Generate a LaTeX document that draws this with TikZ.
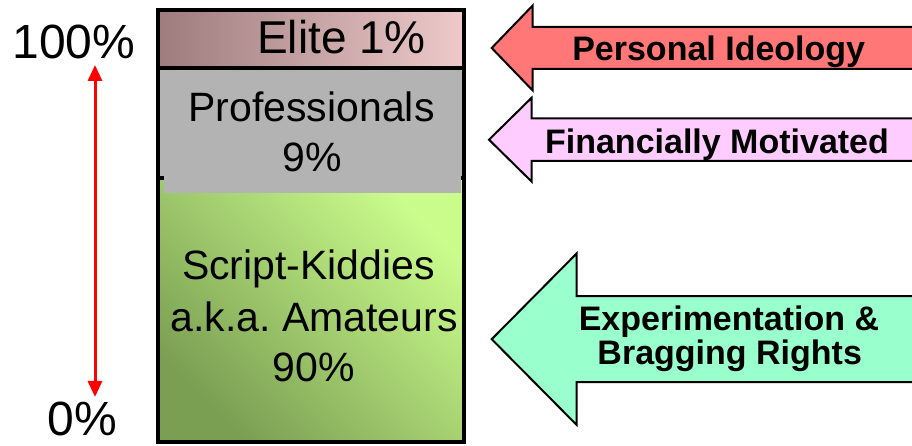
\documentclass[tikz,border=0pt]{standalone}
\usepackage{fontspec}
\setmainfont{Liberation Sans}
\usetikzlibrary{arrows.meta}
\definecolor{elitedark}{RGB}{158,123,125}
\definecolor{elitelight}{RGB}{238,202,202}
\definecolor{greendark}{RGB}{122,158,82}
\definecolor{greenlight}{RGB}{202,252,140}
\definecolor{profgray}{RGB}{179,179,179}
\definecolor{arrowred}{RGB}{255,119,119}
\definecolor{arrowpink}{RGB}{255,204,255}
\definecolor{arrowmint}{RGB}{153,255,204}
\begin{document}
\begin{tikzpicture}[x=1pt,y=1pt,
  body/.style={font=\fontsize{41}{50}\selectfont, anchor=base, inner sep=0pt},
  elitetxt/.style={font=\fontsize{46}{54}\selectfont, anchor=base, inner sep=0pt},
  scaletxt/.style={font=\fontsize{48}{56}\selectfont, anchor=base, inner sep=0pt},
  motive/.style={font=\bfseries\fontsize{34}{34}\selectfont, anchor=base, inner sep=0pt},
  blockarrow/.style={draw=black, line width=2pt, line join=miter},
  border/.style={draw=black, line width=3.5pt}]
\useasboundingbox (0,0) rectangle (912,446);
\begin{scope}
\clip (0,0) rectangle (912,446);
% bands
\shade[bottom color=greendark, top color=greenlight, shading angle=-45] (158,4) rectangle (464,268);
\shade[left color=elitedark, right color=elitelight] (158,378) rectangle (464,436);
\fill[profgray] (158,268) rectangle (464,378);
\draw[border] (158,268) -- (464,268);
\fill[profgray] (164,253) rectangle (461,272);
\draw[border] (158,378) -- (464,378);
\draw[border] (158,4) rectangle (464,436);
% texts in bar
\node[elitetxt] (elite) at (341.5,392.7) {Elite 1\%};
\node[body] (prof1) at (311.5,324) {Professionals};
\node[body] (prof2) at (312,274.3) {9\%};
\node[body] (kid1) at (308.5,166) {Script-Kiddies};
\node[body] (kid2) at (314,114.3) {a.k.a.\ Amateurs};
\node[body] (kid3) at (313.5,64.3) {90\%};
% scale
\node[scaletxt] (hundred) at (74,387.7) {100\%};
\node[scaletxt] (zero) at (82,10) {0\%};
\coordinate (scaletop) at (95,381);
\coordinate (scalebot) at (95,49);
\draw[red, line width=3pt, {Triangle[width=14pt,length=16pt]}-{Triangle[width=14pt,length=16pt]}] (scaletop) -- (scalebot);
% block arrows
\draw[blockarrow, fill=arrowred] (491.7,398) -- (532.7,440.5) -- (532.7,419) -- (930,419) -- (930,377) -- (532.7,377) -- (532.7,355.5) -- cycle;
\draw[blockarrow, fill=arrowpink] (489,306.3) -- (531.7,348.3) -- (531.7,327.5) -- (930,327.5) -- (930,285.1) -- (531.7,285.1) -- (531.7,264.3) -- cycle;
\draw[blockarrow, fill=arrowmint] (491.7,106.8) -- (576.7,192.6) -- (576.7,149.8) -- (930,149.8) -- (930,63.8) -- (576.7,63.8) -- (576.7,21) -- cycle;
\node[motive] (ideology) at (718.7,385) {Personal Ideology};
\node[motive] (financial) at (717,292.7) {Financially Motivated};
\node[motive] (exper) at (729,115) {Experimentation \&};
\node[motive] (brag) at (729.7,81.7) {Bragging Rights};
\end{scope}
\end{tikzpicture}
\end{document}
